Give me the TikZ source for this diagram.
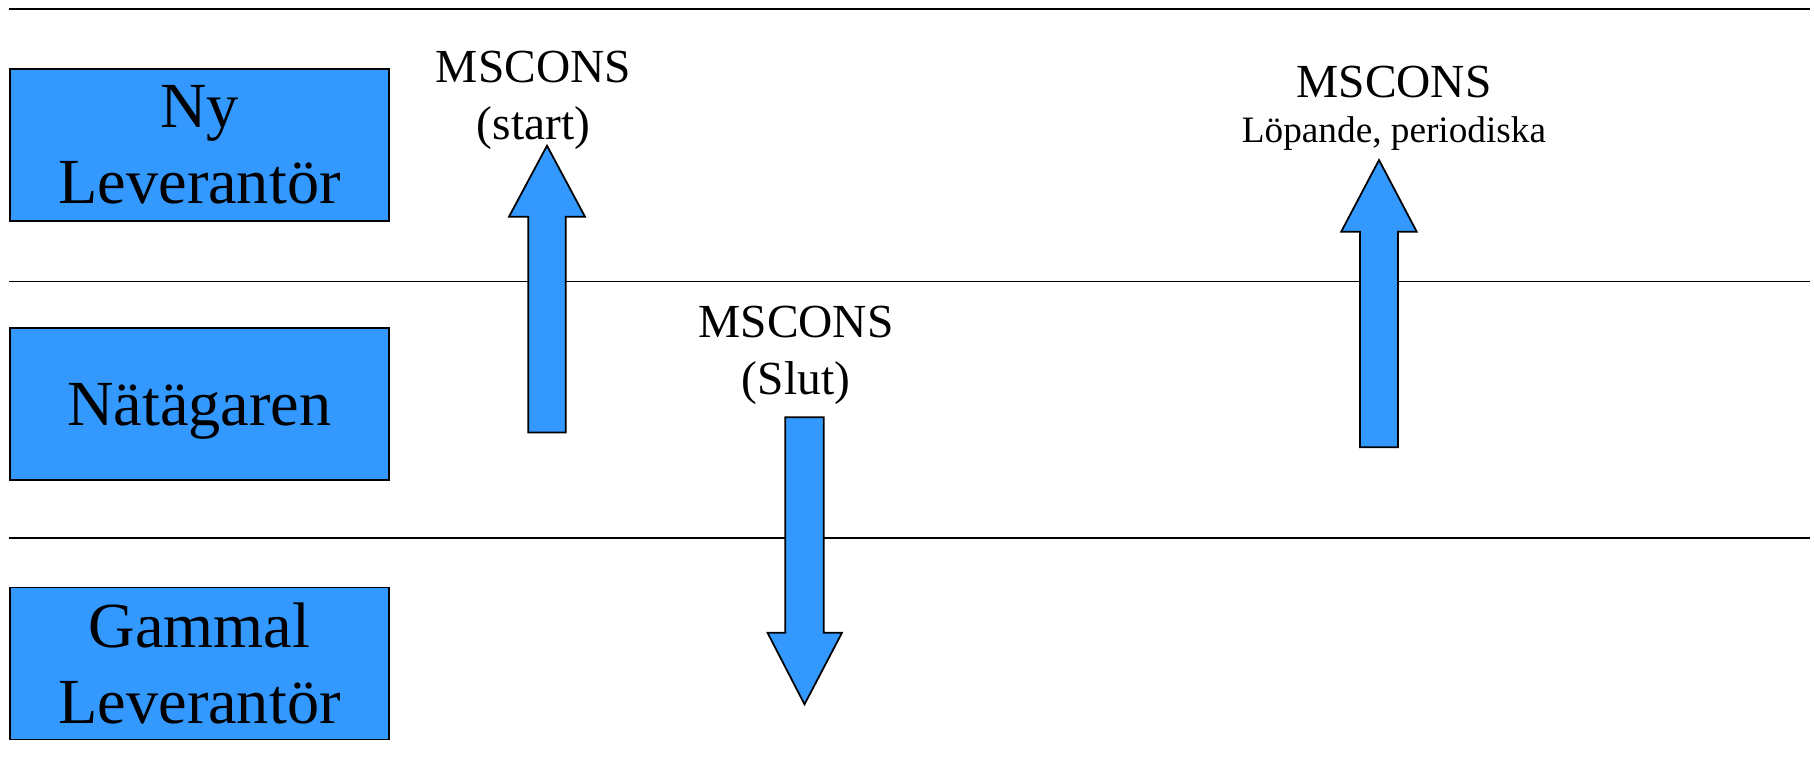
\documentclass[tikz,border=0pt]{standalone}
\usepackage{fontspec}
\setmainfont{Liberation Serif}
\usepackage{tikz}
\usetikzlibrary{positioning}

\definecolor{laneblue}{HTML}{3399FF}

\begin{document}
\begin{tikzpicture}[x=0.1mm, y=-0.1mm, node distance=1.055cm,
	lane/.style={rectangle, draw, line width=0.5pt, fill=laneblue, minimum width=3.79cm, minimum height=1.52cm, inner sep=0pt, align=center, font=\fontsize{18.3}{21.6}\selectfont},
	msg/.style={inner sep=0pt, align=center, anchor=north, font=\fontsize{13.5}{16}\selectfont},
	blockarrow/.style={draw, line width=0.5pt, fill=laneblue, line join=miter}]
	\useasboundingbox (0,0) rectangle (1814,776);

	% lane borders
	\draw[line width=0.5pt] (9,9) -- (1810,9);
	\draw[line width=0.5pt] (9,281.5) -- (1810,281.5);
	\draw[line width=0.5pt] (9,537.7) -- (1810,537.7);

	\node[lane] (ny) at (199.5,145) {Ny\\Leverantör};
	\node[lane, below = of ny, text depth=0pt] (nat) {Nätägaren};
	\node[lane, below = of nat] (gammal) {Gammal\\Leverantör};

	% messages
	\draw[blockarrow] (528.2,432.5) -- (528.2,216.7) -- (509,216.7) -- (547,145.7) -- (585,216.7) -- (565.8,216.7) -- (565.8,432.5) -- cycle;
	\draw[blockarrow] (785.3,417.3) -- (785.3,632.7) -- (767.5,632.7) -- (804.5,704.3) -- (842,632.7) -- (823.8,632.7) -- (823.8,417.3) -- cycle;
	\draw[blockarrow] (1360,447.3) -- (1360,231.7) -- (1341.2,231.7) -- (1379,160) -- (1416.7,231.7) -- (1398,231.7) -- (1398,447.3) -- cycle;

	\node[msg] (start) at (533.5,50.7) {MSCONS\\(start)};
	\node[msg] (slut) at (796,305.7) {MSCONS\\(Slut)};
	\node[msg, font=\fontsize{13.5}{12.8}\selectfont] (periodisk) at (1394,65) {MSCONS\\{\fontsize{10.6}{12.8}\selectfont Löpande, periodiska}};
\end{tikzpicture}
\end{document}
